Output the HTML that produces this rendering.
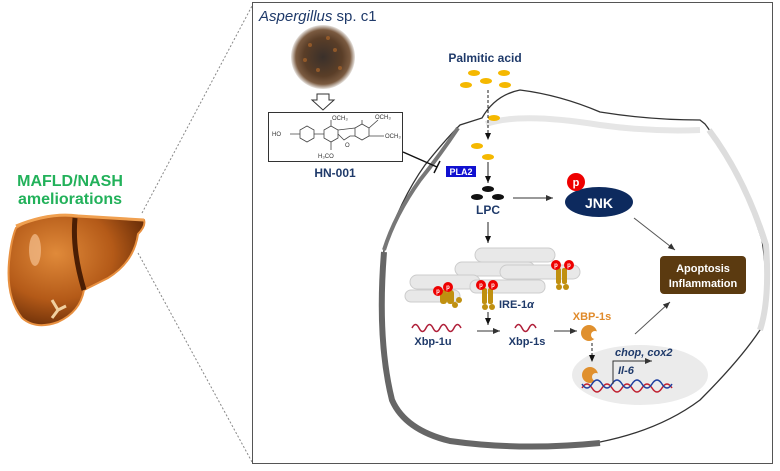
<!DOCTYPE html>
<html><head><meta charset="utf-8"><style>
html,body{margin:0;padding:0;background:#fff}
svg{display:block}
text{font-family:"Liberation Sans",Arial,sans-serif}
</style></head><body>
<svg width="780" height="471" viewBox="0 0 780 471" xmlns="http://www.w3.org/2000/svg">
<defs>
<marker id="a" markerWidth="8" markerHeight="8" refX="7" refY="4" orient="auto"><path d="M0,1 L7,4 L0,7z" fill="#333"/></marker>
<marker id="ak" markerWidth="8" markerHeight="8" refX="7" refY="4" orient="auto"><path d="M0,1 L7,4 L0,7z" fill="#111"/></marker>
<radialGradient id="fg" cx="50%" cy="50%" r="50%"><stop offset="0" stop-color="#3a302a"/><stop offset="0.6" stop-color="#5a3e28"/><stop offset="0.85" stop-color="#7a5a40"/><stop offset="1" stop-color="#e8e4e0"/></radialGradient>
<radialGradient id="lv" cx="35%" cy="35%" r="70%"><stop offset="0" stop-color="#e08a3a"/><stop offset="0.6" stop-color="#b45a18"/><stop offset="1" stop-color="#6a2e08"/></radialGradient>
</defs>
<line x1="142" y1="213" x2="252" y2="6" stroke="#888" stroke-dasharray="2,2"/>
<line x1="138" y1="253" x2="252" y2="462" stroke="#888" stroke-dasharray="2,2"/>
<rect x="252.5" y="2.5" width="520" height="461" fill="none" stroke="#555"/>
<text x="70" y="186" font-size="16" font-weight="bold" fill="#22b15a" text-anchor="middle">MAFLD/NASH</text>
<text x="70" y="204" font-size="16" font-weight="bold" fill="#22b15a" text-anchor="middle">ameliorations</text>
<!-- liver -->
<path d="M16,228 Q40,212 80,216 L144,220 Q146,226 138,234 Q134,262 108,278 L84,290 Q80,312 58,322 Q36,330 22,318 Q6,298 9,262 Q11,240 16,228z" fill="url(#lv)" stroke="#e89040" stroke-width="2"/>
<path d="M75,218 Q72,250 84,290" stroke="#4a1e04" stroke-width="5" fill="none"/>
<path d="M16,226 Q50,212 78,216 L144,220" stroke="#f0a050" stroke-width="3" fill="none"/>
<path d="M52,300 l6,10 l-6,8 M58,310 l8,-4" stroke="#f0d0a0" stroke-width="3" fill="none"/>
<ellipse cx="35" cy="250" rx="6" ry="16" fill="#f5c090" opacity="0.7"/>
<text x="259" y="21" font-size="15" fill="#1f3a6a"><tspan font-style="italic">Aspergillus</tspan> sp. c1</text>
<circle cx="323" cy="57" r="32" fill="url(#fg)"/>
<g fill="#a0602a" opacity="0.8"><circle cx="310" cy="45" r="2"/><circle cx="335" cy="50" r="2"/><circle cx="318" cy="70" r="2"/><circle cx="340" cy="68" r="2"/><circle cx="305" cy="60" r="2"/><circle cx="328" cy="38" r="2"/></g>
<path d="M317,94 h12 v6 h5 l-11,10 l-11,-10 h5z" fill="#fff" stroke="#333"/>
<rect x="268.5" y="112.5" width="134" height="49" fill="#fff" stroke="#333"/>
<g stroke="#444" fill="none" stroke-width="0.8">
<polygon points="300,130 307,126 314,130 314,138 307,142 300,138"/>
<polygon points="324,130 331,126 338,130 338,138 331,142 324,138"/>
<polygon points="355,128 362,124 369,128 369,136 362,140 355,136"/>
<path d="M290,134 H300 M314,134 H324 M338,134 L344,140 L350,136 L355,136 M338,130 L355,128 M331,126 V120 M362,124 V120 M369,128 L378,120 M369,136 L384,136 M331,142 V150"/>
</g>
<g font-size="6" fill="#333">
<text x="272" y="136">HO</text><text x="332" y="120">OCH₃</text><text x="375" y="119">OCH₃</text><text x="385" y="138">OCH₃</text><text x="318" y="158">H₃CO</text><text x="345" y="147">O</text>
</g>
<text x="335" y="177" font-size="12" font-weight="bold" fill="#1f3a6a" text-anchor="middle">HN-001</text>
<!-- cell -->
<path d="M384,250 Q400,200 425,165 Q445,140 460,125 L482,118 Q495,95 520,90 Q560,95 600,112 Q650,120 700,120 L705,124 Q740,170 762,240 Q770,290 760,330 Q740,360 700,400 Q660,430 600,442 Q520,450 450,440 Q405,430 392,400 Q375,340 384,250z" fill="#fff" stroke="#333" stroke-width="1.3"/>
<path d="M709,130 Q745,178 766,245 Q770,300 760,330" stroke="#ddd" stroke-width="6" fill="none"/>
<path d="M486,124 Q520,112 600,125 Q650,132 700,130" stroke="#e6e6e6" stroke-width="6" fill="none"/>
<path d="M384,252 Q377,340 392,400 Q405,430 450,441 Q520,451 600,443" stroke="#666" stroke-width="6" fill="none"/>
<path d="M384,250 Q395,215 420,180 Q440,155 458,128" stroke="#777" stroke-width="4" fill="none"/>
<text x="485" y="62" font-size="12" font-weight="bold" fill="#1f3a6a" text-anchor="middle">Palmitic acid</text>
<g fill="#f5b800">
<ellipse cx="474" cy="73" rx="6" ry="3"/><ellipse cx="504" cy="73" rx="6" ry="3"/><ellipse cx="466" cy="85" rx="6" ry="3"/><ellipse cx="486" cy="81" rx="6" ry="3"/><ellipse cx="505" cy="85" rx="6" ry="3"/>
<ellipse cx="494" cy="118" rx="6" ry="3"/><ellipse cx="477" cy="146" rx="6" ry="3"/><ellipse cx="488" cy="157" rx="6" ry="3"/>
</g>
<line x1="488" y1="90" x2="488" y2="140" stroke="#222" stroke-dasharray="3,2" marker-end="url(#ak)"/>
<line x1="488" y1="162" x2="488" y2="183" stroke="#222" marker-end="url(#ak)"/>
<line x1="403" y1="152" x2="437" y2="167" stroke="#111" stroke-width="1.5"/>
<line x1="434" y1="173" x2="440" y2="161" stroke="#111" stroke-width="1.5"/>
<rect x="446" y="166" width="30" height="11" fill="#1010d0"/>
<text x="461" y="175" font-size="9" font-weight="bold" fill="#fff" text-anchor="middle">PLA2</text>
<g fill="#111"><ellipse cx="488" cy="189" rx="6" ry="3"/><ellipse cx="477" cy="197" rx="6" ry="3"/><ellipse cx="498" cy="197" rx="6" ry="3"/></g>
<text x="488" y="214" font-size="12" font-weight="bold" fill="#1f3a6a" text-anchor="middle">LPC</text>
<line x1="513" y1="198" x2="553" y2="198" stroke="#333" marker-end="url(#a)"/>
<ellipse cx="599" cy="202" rx="34" ry="15" fill="#0d2a5e"/>
<text x="599" y="208" font-size="14" font-weight="bold" fill="#fff" text-anchor="middle">JNK</text>
<circle cx="576" cy="182" r="9" fill="#e00"/>
<text x="576" y="186" font-size="11" font-weight="bold" fill="#fff" text-anchor="middle">p</text>
<line x1="634" y1="218" x2="675" y2="250" stroke="#555" marker-end="url(#a)"/>
<line x1="488" y1="222" x2="488" y2="243" stroke="#222" marker-end="url(#ak)"/>
<g fill="#e8e8e8" stroke="#ccc">
<rect x="475" y="248" width="80" height="14" rx="7"/>
<rect x="455" y="262" width="80" height="14" rx="7"/>
<rect x="500" y="265" width="80" height="14" rx="7"/>
<rect x="410" y="275" width="70" height="14" rx="7"/>
<rect x="470" y="280" width="75" height="13" rx="6"/>
<rect x="405" y="290" width="55" height="12" rx="6"/>
</g>
<g fill="#c09010">
<rect x="440" y="290" width="7" height="14" rx="3"/><rect x="447" y="290" width="7" height="14" rx="3"/>
<rect x="482" y="288" width="5" height="16" rx="2"/><rect x="488" y="288" width="5" height="16" rx="2"/>
<rect x="556" y="268" width="5" height="16" rx="2"/><rect x="562" y="268" width="5" height="16" rx="2"/>
<circle cx="485" cy="307" r="3"/><circle cx="492" cy="307" r="3"/><circle cx="559" cy="287" r="3"/><circle cx="566" cy="287" r="3"/><circle cx="455" cy="305" r="3"/><circle cx="459" cy="300" r="3"/>
</g>
<g fill="#e00"><circle cx="438" cy="291" r="5"/><circle cx="448" cy="287" r="5"/><circle cx="481" cy="285" r="5"/><circle cx="493" cy="285" r="5"/><circle cx="556" cy="265" r="5"/><circle cx="569" cy="265" r="5"/></g>
<g font-size="6" fill="#fff" font-weight="bold" text-anchor="middle"><text x="438" y="293">p</text><text x="448" y="289">p</text><text x="481" y="287">p</text><text x="493" y="287">p</text><text x="556" y="267">p</text><text x="569" y="267">p</text></g>
<text x="499" y="308" font-size="11" font-weight="bold" fill="#1f3a6a">IRE-1<tspan font-style="italic">α</tspan></text>
<line x1="488" y1="312" x2="488" y2="325" stroke="#222" marker-end="url(#ak)"/>
<path d="M412,328 q3.5,-7 7,0 t7,0 t7,0 t7,0 t7,0 t7,0 t7,0" stroke="#b0203a" stroke-width="1.5" fill="none"/>
<text x="433" y="345" font-size="11" font-weight="bold" fill="#1f3a6a" text-anchor="middle">Xbp-1u</text>
<line x1="477" y1="331" x2="500" y2="331" stroke="#333" marker-end="url(#a)"/>
<path d="M515,328 q3.5,-7 7,0 t7,0 t7,0" stroke="#b0203a" stroke-width="1.5" fill="none"/>
<text x="527" y="345" font-size="11" font-weight="bold" fill="#1f3a6a" text-anchor="middle">Xbp-1s</text>
<line x1="554" y1="331" x2="577" y2="331" stroke="#333" marker-end="url(#a)"/>
<text x="592" y="320" font-size="11" font-weight="bold" fill="#e08a2a" text-anchor="middle">XBP-1s</text>
<circle cx="589" cy="333" r="8" fill="#e0902e"/><circle cx="595" cy="335" r="4" fill="#fff"/>
<ellipse cx="640" cy="375" rx="68" ry="30" fill="#ebebeb"/>
<line x1="592" y1="343" x2="592" y2="362" stroke="#222" stroke-dasharray="3,2" marker-end="url(#ak)"/>
<circle cx="590" cy="375" r="8" fill="#e0902e"/><circle cx="596" cy="377" r="4" fill="#ebebeb"/>
<path d="M582,388 q5,-8 10,0 t10,0 t10,0 t10,0 t10,0 t10,0 t10,0 t10,0 t10,0" stroke="#c02030" stroke-width="1.5" fill="none"/>
<path d="M582,384 q5,8 10,0 t10,0 t10,0 t10,0 t10,0 t10,0 t10,0 t10,0 t10,0" stroke="#2040a0" stroke-width="1.5" fill="none"/>
<path d="M613,384 V361 H652" stroke="#333" fill="none" marker-end="url(#a)"/>
<text x="615" y="356" font-size="11" font-weight="bold" font-style="italic" fill="#1f3a6a">chop, cox2</text>
<text x="618" y="374" font-size="11" font-weight="bold" font-style="italic" fill="#1f3a6a">Il-6</text>
<line x1="635" y1="334" x2="670" y2="302" stroke="#555" marker-end="url(#a)"/>
<rect x="660" y="256" width="86" height="38" rx="4" fill="#5b3a10"/>
<text x="703" y="272" font-size="11" font-weight="bold" fill="#fff" text-anchor="middle">Apoptosis</text>
<text x="703" y="287" font-size="11" font-weight="bold" fill="#fff" text-anchor="middle">Inflammation</text>
</svg>
</body></html>
